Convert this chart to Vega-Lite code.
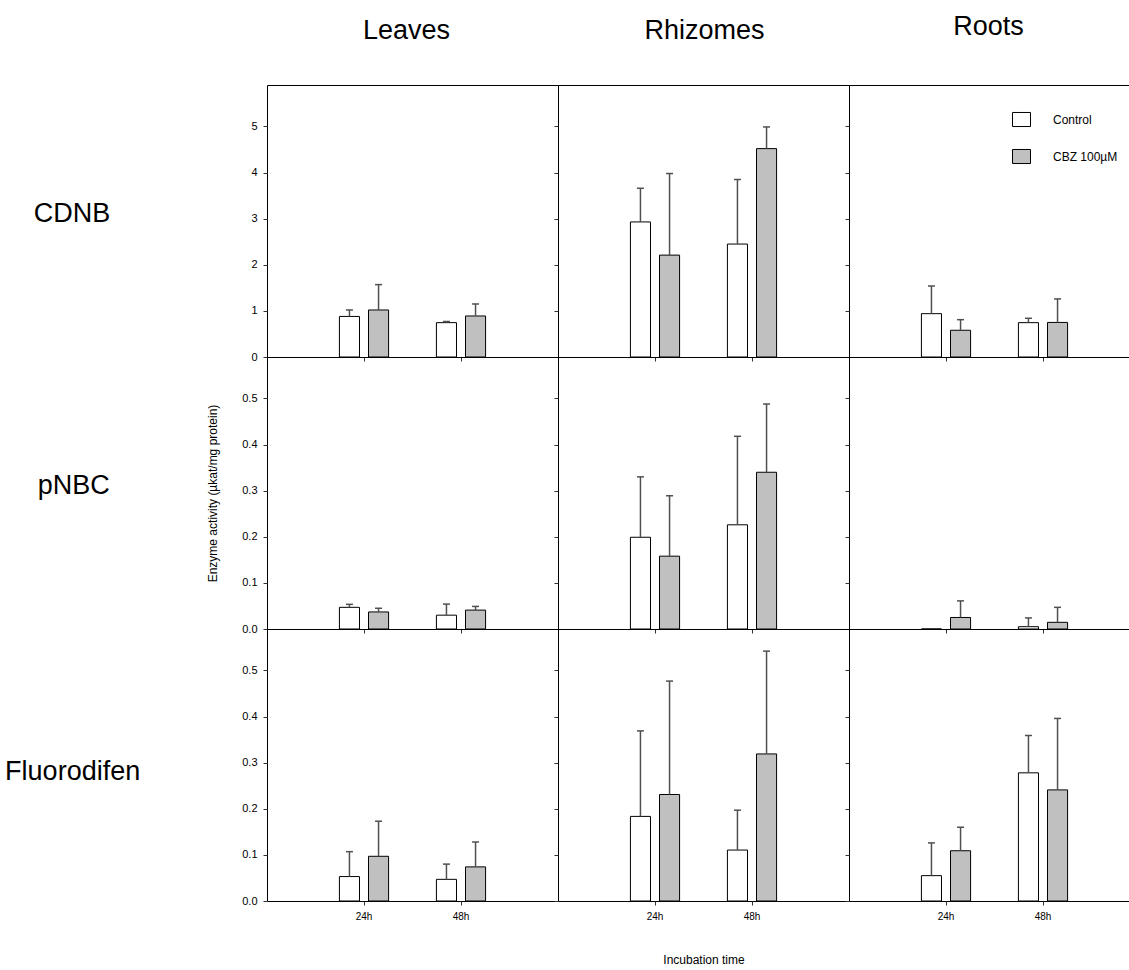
{
  "$schema": "https://vega.github.io/schema/vega-lite/v6.json",
  "autosize": {"type": "none"},
  "padding": {"left": 267, "top": 85, "right": 862, "bottom": 885},
  "background": "white",
  "data": {
    "values": [
      {"marker": "CDNB", "tissue": "Leaves", "time": "24h", "treatment": "Control", "mean": 0.88, "upper": 1.02},
      {"marker": "CDNB", "tissue": "Leaves", "time": "24h", "treatment": "CBZ 100µM", "mean": 1.02, "upper": 1.57},
      {"marker": "CDNB", "tissue": "Leaves", "time": "48h", "treatment": "Control", "mean": 0.745, "upper": 0.77},
      {"marker": "CDNB", "tissue": "Leaves", "time": "48h", "treatment": "CBZ 100µM", "mean": 0.89, "upper": 1.15},
      {"marker": "CDNB", "tissue": "Rhizomes", "time": "24h", "treatment": "Control", "mean": 2.93, "upper": 3.66},
      {"marker": "CDNB", "tissue": "Rhizomes", "time": "24h", "treatment": "CBZ 100µM", "mean": 2.21, "upper": 3.98},
      {"marker": "CDNB", "tissue": "Rhizomes", "time": "48h", "treatment": "Control", "mean": 2.45, "upper": 3.85},
      {"marker": "CDNB", "tissue": "Rhizomes", "time": "48h", "treatment": "CBZ 100µM", "mean": 4.52, "upper": 4.99},
      {"marker": "CDNB", "tissue": "Roots", "time": "24h", "treatment": "Control", "mean": 0.94, "upper": 1.54},
      {"marker": "CDNB", "tissue": "Roots", "time": "24h", "treatment": "CBZ 100µM", "mean": 0.58, "upper": 0.81},
      {"marker": "CDNB", "tissue": "Roots", "time": "48h", "treatment": "Control", "mean": 0.745, "upper": 0.84},
      {"marker": "CDNB", "tissue": "Roots", "time": "48h", "treatment": "CBZ 100µM", "mean": 0.75, "upper": 1.26},
      {"marker": "pNBC", "tissue": "Leaves", "time": "24h", "treatment": "Control", "mean": 0.047, "upper": 0.0535},
      {"marker": "pNBC", "tissue": "Leaves", "time": "24h", "treatment": "CBZ 100µM", "mean": 0.037, "upper": 0.045},
      {"marker": "pNBC", "tissue": "Leaves", "time": "48h", "treatment": "Control", "mean": 0.03, "upper": 0.054},
      {"marker": "pNBC", "tissue": "Leaves", "time": "48h", "treatment": "CBZ 100µM", "mean": 0.041, "upper": 0.049},
      {"marker": "pNBC", "tissue": "Rhizomes", "time": "24h", "treatment": "Control", "mean": 0.199, "upper": 0.33},
      {"marker": "pNBC", "tissue": "Rhizomes", "time": "24h", "treatment": "CBZ 100µM", "mean": 0.158, "upper": 0.289},
      {"marker": "pNBC", "tissue": "Rhizomes", "time": "48h", "treatment": "Control", "mean": 0.226, "upper": 0.418},
      {"marker": "pNBC", "tissue": "Rhizomes", "time": "48h", "treatment": "CBZ 100µM", "mean": 0.34, "upper": 0.488},
      {"marker": "pNBC", "tissue": "Roots", "time": "24h", "treatment": "Control", "mean": 0, "upper": null},
      {"marker": "pNBC", "tissue": "Roots", "time": "24h", "treatment": "CBZ 100µM", "mean": 0.025, "upper": 0.061},
      {"marker": "pNBC", "tissue": "Roots", "time": "48h", "treatment": "Control", "mean": 0.005, "upper": 0.024},
      {"marker": "pNBC", "tissue": "Roots", "time": "48h", "treatment": "CBZ 100µM", "mean": 0.0145, "upper": 0.047},
      {"marker": "Fluorodifen", "tissue": "Leaves", "time": "24h", "treatment": "Control", "mean": 0.053, "upper": 0.107},
      {"marker": "Fluorodifen", "tissue": "Leaves", "time": "24h", "treatment": "CBZ 100µM", "mean": 0.097, "upper": 0.173},
      {"marker": "Fluorodifen", "tissue": "Leaves", "time": "48h", "treatment": "Control", "mean": 0.047, "upper": 0.08},
      {"marker": "Fluorodifen", "tissue": "Leaves", "time": "48h", "treatment": "CBZ 100µM", "mean": 0.074, "upper": 0.128},
      {"marker": "Fluorodifen", "tissue": "Rhizomes", "time": "24h", "treatment": "Control", "mean": 0.1835, "upper": 0.369},
      {"marker": "Fluorodifen", "tissue": "Rhizomes", "time": "24h", "treatment": "CBZ 100µM", "mean": 0.231, "upper": 0.477},
      {"marker": "Fluorodifen", "tissue": "Rhizomes", "time": "48h", "treatment": "Control", "mean": 0.1105, "upper": 0.197},
      {"marker": "Fluorodifen", "tissue": "Rhizomes", "time": "48h", "treatment": "CBZ 100µM", "mean": 0.319, "upper": 0.542},
      {"marker": "Fluorodifen", "tissue": "Roots", "time": "24h", "treatment": "Control", "mean": 0.055, "upper": 0.126},
      {"marker": "Fluorodifen", "tissue": "Roots", "time": "24h", "treatment": "CBZ 100µM", "mean": 0.109, "upper": 0.16},
      {"marker": "Fluorodifen", "tissue": "Roots", "time": "48h", "treatment": "Control", "mean": 0.278, "upper": 0.359},
      {"marker": "Fluorodifen", "tissue": "Roots", "time": "48h", "treatment": "CBZ 100µM", "mean": 0.241, "upper": 0.396}
    ]
  },
  "columns": 3,
  "spacing": 0,
  "bounds": "flush",
  "resolve": {"scale": {"fill": "independent"}, "legend": {"fill": "independent"}},
  "concat": [
    {
      "title": {"text": "Leaves", "fontSize": 27, "offset": 40, "dx": -6},
      "width": 291, "height": 272,
      "transform": [{"filter": "datum.marker === 'CDNB' && datum.tissue === 'Leaves'"}],
      "encoding": {
        "x": {"field": "time", "type": "nominal", "scale": {"domain": ["24h", "48h"], "paddingInner": 0.493, "paddingOuter": 0.7465}, "axis": {"title": null, "labels": false}},
        "xOffset": {"field": "treatment", "type": "nominal", "scale": {"domain": ["Control", "CBZ 100µM"], "paddingInner": 0.31, "paddingOuter": 0}},
        "y": {"field": "mean", "type": "quantitative", "scale": {"domain": [0, 5.9], "nice": false}, "axis": {"title": "CDNB", "titleFontSize": 27, "titleAngle": 0, "titleAlign": "right", "titleBaseline": "middle", "titleY": 128, "titlePadding": 141, "values": [0, 1, 2, 3, 4, 5], "format": "d", "labelFontSize": 11, "labelPadding": 6}}
      },
      "layer": [
        {"mark": {"type": "bar", "stroke": "black", "strokeWidth": 1}, "encoding": {"fill": {"field": "treatment", "type": "nominal", "scale": {"domain": ["Control", "CBZ 100µM"], "range": ["white", "#c0c0c0"]}, "legend": null}}},
        {"mark": {"type": "rule", "color": "#505050", "strokeWidth": 1.5}, "encoding": {"y2": {"field": "upper"}}},
        {"mark": {"type": "tick", "color": "#505050", "thickness": 1.5, "size": 7, "opacity": 1}, "encoding": {"y": {"field": "upper", "type": "quantitative"}}}
      ]
    },
    {
      "title": {"text": "Rhizomes", "fontSize": 27, "offset": 40, "dx": 1},
      "width": 291, "height": 272,
      "transform": [{"filter": "datum.marker === 'CDNB' && datum.tissue === 'Rhizomes'"}],
      "encoding": {
        "x": {"field": "time", "type": "nominal", "scale": {"domain": ["24h", "48h"], "paddingInner": 0.493, "paddingOuter": 0.7465}, "axis": {"title": null, "labels": false}},
        "xOffset": {"field": "treatment", "type": "nominal", "scale": {"domain": ["Control", "CBZ 100µM"], "paddingInner": 0.31, "paddingOuter": 0}},
        "y": {"field": "mean", "type": "quantitative", "scale": {"domain": [0, 5.9], "nice": false}, "axis": {"title": null, "values": [0, 1, 2, 3, 4, 5], "labels": false}}
      },
      "layer": [
        {"mark": {"type": "bar", "stroke": "black", "strokeWidth": 1}, "encoding": {"fill": {"field": "treatment", "type": "nominal", "scale": {"domain": ["Control", "CBZ 100µM"], "range": ["white", "#c0c0c0"]}, "legend": null}}},
        {"mark": {"type": "rule", "color": "#505050", "strokeWidth": 1.5}, "encoding": {"y2": {"field": "upper"}}},
        {"mark": {"type": "tick", "color": "#505050", "thickness": 1.5, "size": 7, "opacity": 1}, "encoding": {"y": {"field": "upper", "type": "quantitative"}}}
      ]
    },
    {
      "title": {"text": "Roots", "fontSize": 27, "offset": 44, "dx": -6},
      "width": 291, "height": 272,
      "transform": [{"filter": "datum.marker === 'CDNB' && datum.tissue === 'Roots'"}],
      "encoding": {
        "x": {"field": "time", "type": "nominal", "scale": {"domain": ["24h", "48h"], "paddingInner": 0.493, "paddingOuter": 0.7465}, "axis": {"title": null, "labels": false}},
        "xOffset": {"field": "treatment", "type": "nominal", "scale": {"domain": ["Control", "CBZ 100µM"], "paddingInner": 0.31, "paddingOuter": 0}},
        "y": {"field": "mean", "type": "quantitative", "scale": {"domain": [0, 5.9], "nice": false}, "axis": {"title": null, "values": [0, 1, 2, 3, 4, 5], "labels": false}}
      },
      "layer": [
        {"mark": {"type": "bar", "stroke": "black", "strokeWidth": 1}, "encoding": {"fill": {"field": "treatment", "type": "nominal", "scale": {"domain": ["Control", "CBZ 100µM"], "range": ["white", "#c0c0c0"]}, "legend": {"title": null, "orient": "none", "legendX": 163, "legendY": 25, "padding": 0, "symbolType": "M-1,-0.78H1V0.78H-1Z", "symbolSize": 324, "symbolStrokeColor": "black", "symbolStrokeWidth": 1, "labelFontSize": 12, "labelOffset": 22, "rowPadding": 18, "labelColor": "black", "labelFont": "Liberation Sans"}}}},
        {"mark": {"type": "rule", "color": "#505050", "strokeWidth": 1.5}, "encoding": {"y2": {"field": "upper"}}},
        {"mark": {"type": "tick", "color": "#505050", "thickness": 1.5, "size": 7, "opacity": 1}, "encoding": {"y": {"field": "upper", "type": "quantitative"}}}
      ]
    },
    {
      "title": {"text": "pNBC", "orient": "left", "angle": 0, "align": "right", "baseline": "middle", "frame": "group", "anchor": "middle", "fontSize": 27, "offset": 25, "dy": -7},
      "width": 291, "height": 272,
      "transform": [{"filter": "datum.marker === 'pNBC' && datum.tissue === 'Leaves'"}],
      "encoding": {
        "x": {"field": "time", "type": "nominal", "scale": {"domain": ["24h", "48h"], "paddingInner": 0.493, "paddingOuter": 0.7465}, "axis": {"title": null, "labels": false}},
        "xOffset": {"field": "treatment", "type": "nominal", "scale": {"domain": ["Control", "CBZ 100µM"], "paddingInner": 0.31, "paddingOuter": 0}},
        "y": {"field": "mean", "type": "quantitative", "scale": {"domain": [0, 0.59], "nice": false}, "axis": {"title": "Enzyme activity (µkat/mg protein)", "titleFontSize": 12, "titlePadding": 22, "values": [0, 0.1, 0.2, 0.3, 0.4, 0.5], "format": ".1f", "labelFontSize": 11, "labelPadding": 6}}
      },
      "layer": [
        {"mark": {"type": "bar", "stroke": "black", "strokeWidth": 1}, "encoding": {"fill": {"field": "treatment", "type": "nominal", "scale": {"domain": ["Control", "CBZ 100µM"], "range": ["white", "#c0c0c0"]}, "legend": null}}},
        {"mark": {"type": "rule", "color": "#505050", "strokeWidth": 1.5}, "encoding": {"y2": {"field": "upper"}}},
        {"mark": {"type": "tick", "color": "#505050", "thickness": 1.5, "size": 7, "opacity": 1}, "encoding": {"y": {"field": "upper", "type": "quantitative"}}}
      ]
    },
    {
      "width": 291, "height": 272,
      "transform": [{"filter": "datum.marker === 'pNBC' && datum.tissue === 'Rhizomes'"}],
      "encoding": {
        "x": {"field": "time", "type": "nominal", "scale": {"domain": ["24h", "48h"], "paddingInner": 0.493, "paddingOuter": 0.7465}, "axis": {"title": null, "labels": false}},
        "xOffset": {"field": "treatment", "type": "nominal", "scale": {"domain": ["Control", "CBZ 100µM"], "paddingInner": 0.31, "paddingOuter": 0}},
        "y": {"field": "mean", "type": "quantitative", "scale": {"domain": [0, 0.59], "nice": false}, "axis": {"title": null, "values": [0, 0.1, 0.2, 0.3, 0.4, 0.5], "labels": false}}
      },
      "layer": [
        {"mark": {"type": "bar", "stroke": "black", "strokeWidth": 1}, "encoding": {"fill": {"field": "treatment", "type": "nominal", "scale": {"domain": ["Control", "CBZ 100µM"], "range": ["white", "#c0c0c0"]}, "legend": null}}},
        {"mark": {"type": "rule", "color": "#505050", "strokeWidth": 1.5}, "encoding": {"y2": {"field": "upper"}}},
        {"mark": {"type": "tick", "color": "#505050", "thickness": 1.5, "size": 7, "opacity": 1}, "encoding": {"y": {"field": "upper", "type": "quantitative"}}}
      ]
    },
    {
      "width": 291, "height": 272,
      "transform": [{"filter": "datum.marker === 'pNBC' && datum.tissue === 'Roots'"}],
      "encoding": {
        "x": {"field": "time", "type": "nominal", "scale": {"domain": ["24h", "48h"], "paddingInner": 0.493, "paddingOuter": 0.7465}, "axis": {"title": null, "labels": false}},
        "xOffset": {"field": "treatment", "type": "nominal", "scale": {"domain": ["Control", "CBZ 100µM"], "paddingInner": 0.31, "paddingOuter": 0}},
        "y": {"field": "mean", "type": "quantitative", "scale": {"domain": [0, 0.59], "nice": false}, "axis": {"title": null, "values": [0, 0.1, 0.2, 0.3, 0.4, 0.5], "labels": false}}
      },
      "layer": [
        {"mark": {"type": "bar", "stroke": "black", "strokeWidth": 1}, "encoding": {"fill": {"field": "treatment", "type": "nominal", "scale": {"domain": ["Control", "CBZ 100µM"], "range": ["white", "#c0c0c0"]}, "legend": null}}},
        {"mark": {"type": "rule", "color": "#505050", "strokeWidth": 1.5}, "encoding": {"y2": {"field": "upper"}}},
        {"mark": {"type": "tick", "color": "#505050", "thickness": 1.5, "size": 7, "opacity": 1}, "encoding": {"y": {"field": "upper", "type": "quantitative"}}}
      ]
    },
    {
      "width": 291, "height": 272,
      "transform": [{"filter": "datum.marker === 'Fluorodifen' && datum.tissue === 'Leaves'"}],
      "encoding": {
        "x": {"field": "time", "type": "nominal", "scale": {"domain": ["24h", "48h"], "paddingInner": 0.493, "paddingOuter": 0.7465}, "axis": {"title": null, "labelAngle": 0, "labelFontSize": 10, "labelPadding": 6}},
        "xOffset": {"field": "treatment", "type": "nominal", "scale": {"domain": ["Control", "CBZ 100µM"], "paddingInner": 0.31, "paddingOuter": 0}},
        "y": {"field": "mean", "type": "quantitative", "scale": {"domain": [0, 0.59], "nice": false}, "axis": {"title": "Fluorodifen", "titleFontSize": 27, "titleAngle": 0, "titleAlign": "right", "titleBaseline": "middle", "titleY": 142, "titlePadding": 102, "values": [0, 0.1, 0.2, 0.3, 0.4, 0.5], "format": ".1f", "labelFontSize": 11, "labelPadding": 6}}
      },
      "layer": [
        {"mark": {"type": "bar", "stroke": "black", "strokeWidth": 1}, "encoding": {"fill": {"field": "treatment", "type": "nominal", "scale": {"domain": ["Control", "CBZ 100µM"], "range": ["white", "#c0c0c0"]}, "legend": null}}},
        {"mark": {"type": "rule", "color": "#505050", "strokeWidth": 1.5}, "encoding": {"y2": {"field": "upper"}}},
        {"mark": {"type": "tick", "color": "#505050", "thickness": 1.5, "size": 7, "opacity": 1}, "encoding": {"y": {"field": "upper", "type": "quantitative"}}}
      ]
    },
    {
      "width": 291, "height": 272,
      "transform": [{"filter": "datum.marker === 'Fluorodifen' && datum.tissue === 'Rhizomes'"}],
      "encoding": {
        "x": {"field": "time", "type": "nominal", "scale": {"domain": ["24h", "48h"], "paddingInner": 0.493, "paddingOuter": 0.7465}, "axis": {"title": "Incubation time", "titleFontSize": 12, "titlePadding": 33, "labelAngle": 0, "labelFontSize": 10, "labelPadding": 6}},
        "xOffset": {"field": "treatment", "type": "nominal", "scale": {"domain": ["Control", "CBZ 100µM"], "paddingInner": 0.31, "paddingOuter": 0}},
        "y": {"field": "mean", "type": "quantitative", "scale": {"domain": [0, 0.59], "nice": false}, "axis": {"title": null, "values": [0, 0.1, 0.2, 0.3, 0.4, 0.5], "labels": false}}
      },
      "layer": [
        {"mark": {"type": "bar", "stroke": "black", "strokeWidth": 1}, "encoding": {"fill": {"field": "treatment", "type": "nominal", "scale": {"domain": ["Control", "CBZ 100µM"], "range": ["white", "#c0c0c0"]}, "legend": null}}},
        {"mark": {"type": "rule", "color": "#505050", "strokeWidth": 1.5}, "encoding": {"y2": {"field": "upper"}}},
        {"mark": {"type": "tick", "color": "#505050", "thickness": 1.5, "size": 7, "opacity": 1}, "encoding": {"y": {"field": "upper", "type": "quantitative"}}}
      ]
    },
    {
      "width": 291, "height": 272,
      "transform": [{"filter": "datum.marker === 'Fluorodifen' && datum.tissue === 'Roots'"}],
      "encoding": {
        "x": {"field": "time", "type": "nominal", "scale": {"domain": ["24h", "48h"], "paddingInner": 0.493, "paddingOuter": 0.7465}, "axis": {"title": null, "labelAngle": 0, "labelFontSize": 10, "labelPadding": 6}},
        "xOffset": {"field": "treatment", "type": "nominal", "scale": {"domain": ["Control", "CBZ 100µM"], "paddingInner": 0.31, "paddingOuter": 0}},
        "y": {"field": "mean", "type": "quantitative", "scale": {"domain": [0, 0.59], "nice": false}, "axis": {"title": null, "values": [0, 0.1, 0.2, 0.3, 0.4, 0.5], "labels": false}}
      },
      "layer": [
        {"mark": {"type": "bar", "stroke": "black", "strokeWidth": 1}, "encoding": {"fill": {"field": "treatment", "type": "nominal", "scale": {"domain": ["Control", "CBZ 100µM"], "range": ["white", "#c0c0c0"]}, "legend": null}}},
        {"mark": {"type": "rule", "color": "#505050", "strokeWidth": 1.5}, "encoding": {"y2": {"field": "upper"}}},
        {"mark": {"type": "tick", "color": "#505050", "thickness": 1.5, "size": 7, "opacity": 1}, "encoding": {"y": {"field": "upper", "type": "quantitative"}}}
      ]
    }
  ],
  "config": {
    "font": "Liberation Sans",
    "view": {"stroke": "black", "strokeWidth": 1},
    "axis": {"domain": false, "grid": false, "ticks": true, "tickSize": 4, "tickColor": "#333333", "labelColor": "black", "labelFont": "Liberation Sans", "titleFont": "Liberation Sans", "titleFontWeight": "normal", "titleColor": "black"},
    "title": {"font": "Liberation Sans", "fontWeight": "normal", "color": "black"}
  }
}
